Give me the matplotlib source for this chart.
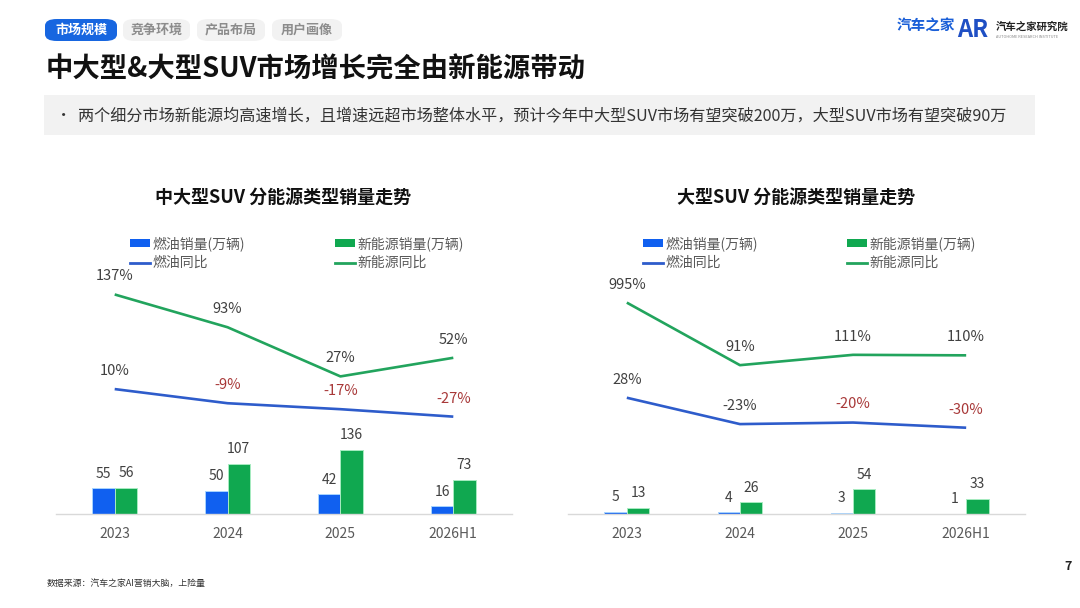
import numpy as np
import matplotlib.pyplot as plt
from matplotlib.patches import FancyBboxPatch, Rectangle, Patch
from matplotlib.lines import Line2D

plt.rcParams['font.family'] = ['Noto Sans CJK SC', 'DejaVu Sans']

# data
years = ['2023', '2024', '2025', '2026H1']

mid_oil = [55, 50, 42, 16]
mid_nev = [56, 107, 136, 73]
mid_oil_yoy = [10, -9, -17, -27]
mid_nev_yoy = [137, 93, 27, 52]

big_oil = [5, 4, 3, 1]
big_nev = [13, 26, 54, 33]
big_oil_yoy = [28, -23, -20, -30]
big_nev_yoy = [995, 91, 111, 110]

# which oil-yoy labels are drawn in red in the reference
mid_oil_red = [False, True, True, True]
big_oil_red = [False, False, True, True]

W, H = 1080, 608
BLUE = '#1060F0'
GREEN = '#10A850'
BLUE_LINE = '#2E5CCB'
GREEN_LINE = '#22A45D'
GRAY_TXT = '#404040'
RED_TXT = '#A83838'

fig = plt.figure(figsize=(W / 100, H / 100), dpi=100)
fig.patch.set_facecolor('white')


def fx(px):
    return px / W


def fy(py):
    return 1 - py / H


# ---- header ----
tabs = ['市场规模', '竞争环境', '产品布局', '用户画像']
tab_x = [(45, 117), (123, 190), (197, 265), (272, 342)]
for i, (t, (x0, x1)) in enumerate(zip(tabs, tab_x)):
    active = i == 0
    box = FancyBboxPatch((fx(x0), fy(41)), fx(x1 - x0), 22 / H,
                         boxstyle='round,pad=0,rounding_size=0.011',
                         transform=fig.transFigure,
                         facecolor='#1766E0' if active else '#F2F2F2',
                         edgecolor='none')
    fig.patches.append(box)
    fig.text(fx((x0 + x1) / 2), fy(30), t, ha='center', va='center',
             fontsize=9.4, fontweight='bold',
             color='white' if active else '#8C8C8C')

fig.text(fx(46), fy(70), '中大型&大型SUV市场增长完全由新能源带动',
         fontsize=19.7, fontweight='bold', color='#111111', va='center')

fig.patches.append(Rectangle((fx(44), fy(135)), fx(991), 40 / H,
                             transform=fig.transFigure,
                             facecolor='#F2F2F2', edgecolor='none'))
fig.text(fx(56), fy(116), '•', fontsize=11, color='#333333', va='center')
fig.text(fx(78), fy(116),
         '两个细分市场新能源均高速增长，且增速远超市场整体水平，预计今年中大型SUV市场有望突破200万，大型SUV市场有望突破90万',
         fontsize=11.6, color='#333333', va='center')

# logos
fig.text(fx(897), fy(26), '汽车之家', fontsize=10.5, fontweight='bold',
         color='#1A5FD8', va='center')
fig.text(fx(957), fy(30), 'AR', fontsize=17, fontweight='bold',
         color='#1F4FC4', va='center')
fig.text(fx(996), fy(27), '汽车之家研究院', fontsize=7.5, fontweight='bold',
         color='#222222', va='center')
fig.text(fx(996), fy(37), 'AUTOHOME RESEARCH INSTITUTE', fontsize=2.8,
         color='#888888', va='center')

fig.text(fx(47), fy(583), '数据来源：汽车之家AI营销大脑，上险量',
         fontsize=6.4, color='#333333', va='center')
fig.text(fx(1064), fy(567), '7', fontsize=9, fontweight='bold',
         color='#222222', va='center')


# ---- charts ----
def draw_chart(x0, x1, title, title_x, oil, nev, oil_yoy, nev_yoy, red_flags,
               bar_top, pct_lim, yoy_cap, leg_x, leg_x2):
    top, bottom = 290, 514
    ax = fig.add_axes([fx(x0), fy(bottom), fx(x1 - x0), (bottom - top) / H])
    x = np.arange(len(years))
    w = 0.198
    ax.bar(x - w / 2, oil, w, color=BLUE, edgecolor='#A8D4FF', linewidth=0.7)
    ax.bar(x + w / 2, nev, w, color=GREEN, edgecolor='#A6EBC0', linewidth=0.7)
    for xi, v in zip(x, oil):
        ax.annotate(str(v), (xi - w / 2, v), xytext=(0, 10.5),
                    textcoords='offset points', ha='center', va='center',
                    fontsize=10, color=GRAY_TXT)
    for xi, v in zip(x, nev):
        ax.annotate(str(v), (xi + w / 2, v), xytext=(0, 10.5),
                    textcoords='offset points', ha='center', va='center',
                    fontsize=10, color=GRAY_TXT)
    ax.set_xlim(-0.52, 3.52)
    ax.set_ylim(0, bar_top)
    ax.set_xticks(x)
    ax.set_xticklabels(years, fontsize=10, color='#595959')
    ax.tick_params(axis='x', length=0, pad=9)
    ax.set_yticks([])
    for s in ['top', 'left', 'right']:
        ax.spines[s].set_visible(False)
    ax.spines['bottom'].set_color('#D9D9D9')
    ax.spines['bottom'].set_linewidth(1)
    ax.patch.set_alpha(0)

    ax2 = ax.twinx()
    ax2.set_ylim(*pct_lim)
    # reference clips the 995% outlier at the top of the line area
    nev_plot = np.minimum(nev_yoy, yoy_cap)
    ax2.plot(x, oil_yoy, color=BLUE_LINE, lw=1.9, solid_capstyle='butt')
    ax2.plot(x, nev_plot, color=GREEN_LINE, lw=1.9, solid_capstyle='butt')
    for xi, v, red in zip(x, oil_yoy, red_flags):
        ax2.annotate(f'{v}%', (xi, v), xytext=(0, 13), textcoords='offset points',
                     ha='center', va='center', fontsize=10.5,
                     color=RED_TXT if red else GRAY_TXT)
    for xi, v, vp in zip(x, nev_yoy, nev_plot):
        ax2.annotate(f'{v}%', (xi, vp), xytext=(0, 13), textcoords='offset points',
                     ha='center', va='center', fontsize=10.5, color=GRAY_TXT)
    ax2.set_yticks([])
    for s in ax2.spines.values():
        s.set_visible(False)

    fig.text(fx(title_x), fy(198), title, ha='center', va='center',
             fontsize=13, fontweight='bold', color='#111111')

    handles = [Patch(facecolor=BLUE, edgecolor='none'),
               Line2D([0], [0], color=BLUE_LINE, lw=2),
               Patch(facecolor=GREEN, edgecolor='none'),
               Line2D([0], [0], color=GREEN_LINE, lw=2)]
    labels = ['燃油销量(万辆)', '燃油同比', '新能源销量(万辆)', '新能源同比']
    for col, lx in enumerate([leg_x, leg_x2]):
        leg = fig.legend(handles[col * 2:col * 2 + 2], labels[col * 2:col * 2 + 2],
                         loc='upper left', bbox_to_anchor=(fx(lx), fy(236)),
                         frameon=False, fontsize=10, handlelength=1.45,
                         handleheight=0.45, handletextpad=0.15,
                         labelspacing=0.38, borderpad=0, borderaxespad=0)
        for t in leg.get_texts():
            t.set_color('#595959')


draw_chart(56, 512, '中大型SUV 分能源类型销量走势', 283,
           mid_oil, mid_nev, mid_oil_yoy, mid_nev_yoy, mid_oil_red,
           bar_top=224 / 0.47, pct_lim=(-157.7, 143.0), yoy_cap=1000,
           leg_x=130, leg_x2=335)
draw_chart(568, 1025, '大型SUV 分能源类型销量走势', 796,
           big_oil, big_nev, big_oil_yoy, big_nev_yoy, big_oil_red,
           bar_top=224 / 0.457, pct_lim=(-196.9, 236.4), yoy_cap=212,
           leg_x=643, leg_x2=847)

fig.savefig('out.png', dpi=100)
